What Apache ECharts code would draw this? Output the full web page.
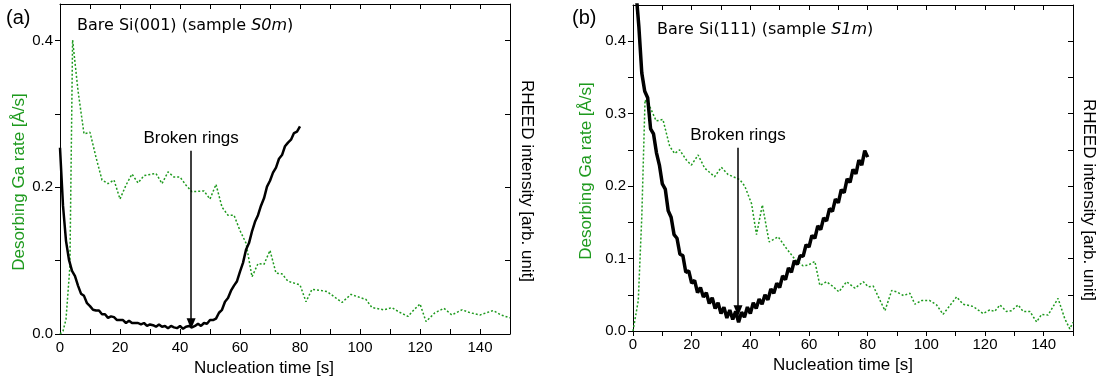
<!DOCTYPE html>
<html>
<head>
<meta charset="utf-8">
<script src="https://cdn.jsdelivr.net/npm/echarts@6/dist/echarts.min.js"></script>
<style>
html, body { margin: 0; padding: 0; background: #fff; }
#chart { width: 1101px; height: 383px; }
</style>
</head>
<body>
<div id="chart"></div>
<script>
// panel (a): Bare Si(001), sample S0m
// desorbing Ga rate [Å/s] (green dotted), time [s] / rate pairs
const gaTimeA = [0, 1, 2, 3.3, 4.2, 6, 8, 10, 12, 14, 16, 18, 20, 22, 24, 26, 28, 32, 34, 36, 38, 40, 42, 44, 48, 50, 52, 54, 56, 58, 60, 62, 64, 66, 68, 70, 72, 74, 76, 80, 82, 84, 89, 94, 97, 102, 104, 108, 110.6, 113, 116, 118, 120, 122, 125, 128, 130.6, 134, 136.7, 140, 144.4, 147, 150]
const gaRateA = [0, 0.004, 0.02, 0.092, 0.401, 0.332, 0.273, 0.275, 0.241, 0.21, 0.205, 0.21, 0.184, 0.203, 0.218, 0.206, 0.216, 0.219, 0.205, 0.221, 0.214, 0.214, 0.203, 0.194, 0.195, 0.184, 0.204, 0.173, 0.162, 0.162, 0.141, 0.124, 0.078, 0.096, 0.095, 0.114, 0.083, 0.082, 0.072, 0.067, 0.044, 0.061, 0.058, 0.043, 0.054, 0.047, 0.036, 0.033, 0.036, 0.030, 0.024, 0.033, 0.041, 0.017, 0.029, 0.035, 0.026, 0.033, 0.029, 0.026, 0.032, 0.026, 0.022]
// RHEED intensity (black), one sample per second from t = 0
const rheedA = [0.254, 0.175, 0.127, 0.101, 0.086, 0.079, 0.066, 0.055, 0.052, 0.042,
  0.038, 0.033, 0.032, 0.032, 0.027, 0.027, 0.022, 0.024, 0.023, 0.019,
  0.019, 0.019, 0.015, 0.018, 0.015, 0.015, 0.015, 0.013, 0.015, 0.011,
  0.013, 0.012, 0.010, 0.013, 0.010, 0.011, 0.008, 0.011, 0.009, 0.008,
  0.011, 0.007, 0.010, 0.011, 0.009, 0.011, 0.014, 0.011, 0.015, 0.014,
  0.019, 0.019, 0.021, 0.029, 0.033, 0.044, 0.049, 0.059, 0.066, 0.072,
  0.085, 0.097, 0.115, 0.124, 0.140, 0.153, 0.162, 0.175, 0.185, 0.201,
  0.209, 0.220, 0.227, 0.239, 0.244, 0.256, 0.261, 0.265, 0.274, 0.276, 0.283]
const arrowA = [43.7, 0.25, 0.014]   // x, top, tip

// panel (b): Bare Si(111), sample S1m
const gaTimeB = [0, 1.8, 3, 4.1, 5.7, 7.9, 10.2, 12.5, 14.2, 15.9, 18.2, 19.9, 22.2, 24.4, 27.8, 30.1, 32.4, 36.4, 38.1, 40.4, 42.1, 44.1, 46.4, 49.5, 52.3, 55.2, 58, 59.7, 62, 63.7, 66, 68, 70.2, 72.8, 75.7, 78.5, 80.2, 81.9, 85.9, 88.2, 89.9, 92.2, 94.4, 96.1, 98.4, 101.2, 103.5, 105.7, 110.3, 112.5, 115.9, 119.4, 121.6, 123.3, 125.1, 127.3, 129, 131.3, 133, 135.3, 137.6, 139.3, 141.5, 144.9, 147.2, 148.9, 150]
const gaRateB = [0, 0.042, 0.158, 0.319, 0.31, 0.29, 0.292, 0.255, 0.245, 0.25, 0.236, 0.229, 0.243, 0.225, 0.213, 0.226, 0.216, 0.209, 0.2, 0.176, 0.133, 0.174, 0.123, 0.130, 0.114, 0.099, 0.09, 0.091, 0.096, 0.063, 0.068, 0.062, 0.054, 0.068, 0.059, 0.068, 0.061, 0.062, 0.028, 0.056, 0.054, 0.049, 0.052, 0.037, 0.042, 0.042, 0.036, 0.023, 0.047, 0.037, 0.034, 0.024, 0.029, 0.027, 0.036, 0.027, 0.028, 0.036, 0.027, 0.027, 0.0125, 0.023, 0.022, 0.045, 0.017, 0.003, 0.012]
// RHEED intensity, one sample per second from t = 1
const rheedB = [0.470, 0.420, 0.356, 0.331, 0.322, 0.279, 0.272, 0.246, 0.229, 0.203,
  0.196, 0.166, 0.157, 0.133, 0.128, 0.106, 0.104, 0.081, 0.083, 0.066,
  0.070, 0.053, 0.060, 0.047, 0.053, 0.038, 0.046, 0.031, 0.039, 0.024,
  0.033, 0.018, 0.029, 0.016, 0.027, 0.012, 0.026, 0.019, 0.033, 0.024,
  0.039, 0.031, 0.044, 0.037, 0.050, 0.043, 0.058, 0.052, 0.066, 0.060,
  0.076, 0.071, 0.087, 0.081, 0.097, 0.092, 0.104, 0.103, 0.119, 0.116,
  0.132, 0.128, 0.145, 0.140, 0.156, 0.152, 0.169, 0.165, 0.182, 0.177,
  0.195, 0.191, 0.210, 0.205, 0.223, 0.217, 0.236, 0.229, 0.249, 0.240]
const arrowB = [35.8, 0.253, 0.028]

const GREEN = '#1e9a1e'
const FONT = '"Liberation Sans", Arial, sans-serif'
const TITLE_FONT = '"DejaVu Sans", Verdana, sans-serif'

const chart = echarts.init(document.getElementById('chart'))

// tick labels: y only at multiples of `step`, x only every 20
const yFmt = step => v => Math.abs(v / step - Math.round(v / step)) < 1e-6 ? v.toFixed(1) : ''
const xFmt = v => v % 20 === 0 ? String(v) : ''

function xAxes(grid, tickInside, namePad) {
  const line = { show: true, onZero: false, lineStyle: { color: '#000', width: 1 } }
  return [
    {
      type: 'value', gridIndex: grid, position: 'bottom', min: 0, max: 150, interval: 10,
      axisLine: line,
      axisTick: { show: true, inside: tickInside, length: 5, lineStyle: { color: '#000' } },
      axisLabel: { color: '#000', fontSize: 15, fontFamily: FONT, margin: 6, formatter: xFmt },
      splitLine: { show: false },
      name: 'Nucleation time [s]', nameLocation: 'middle', nameGap: 24,
      nameTextStyle: { color: '#000', fontSize: 17, fontFamily: FONT, padding: namePad }
    },
    {
      type: 'value', gridIndex: grid, position: 'top', min: 0, max: 150, interval: 10,
      axisLine: line,
      axisTick: { show: true, inside: true, length: 5, lineStyle: { color: '#000' } },
      axisLabel: { show: false }, splitLine: { show: false }
    }
  ]
}

function yAxes(grid, step, labelStep, leftGap, leftPad, rightGap, rightPad) {
  const line = { show: true, onZero: false, lineStyle: { color: '#000', width: 1 } }
  return [
    {
      type: 'value', gridIndex: grid, position: 'left', min: 0, max: 0.45, interval: step,
      axisLine: line,
      axisTick: { show: true, inside: false, length: 5, lineStyle: { color: '#000' } },
      axisLabel: { color: '#000', fontSize: 15, fontFamily: FONT, margin: 7, formatter: yFmt(labelStep), showMaxLabel: false },
      splitLine: { show: false },
      name: 'Desorbing Ga rate [Å/s]', nameLocation: 'middle', nameGap: leftGap, nameRotate: 90,
      nameTextStyle: { color: GREEN, fontSize: 17, fontFamily: FONT, padding: leftPad }
    },
    {
      type: 'value', gridIndex: grid, position: 'right', min: 0, max: 0.45, interval: step,
      axisLine: line,
      axisTick: { show: true, inside: true, length: 5, lineStyle: { color: '#000' } },
      axisLabel: { show: false }, splitLine: { show: false },
      name: 'RHEED intensity [arb. unit]', nameLocation: 'middle', nameGap: rightGap, nameRotate: -90,
      nameTextStyle: { color: '#000', fontSize: 17, fontFamily: FONT, padding: rightPad }
    }
  ]
}

function arrowMark(a) {
  return {
    silent: true, animation: false,
    symbol: ['none', 'triangle'], symbolSize: [9, 11],
    lineStyle: { color: '#000', width: 1.5, type: 'solid' },
    label: { show: true, position: 'start', formatter: 'Broken rings', color: '#000', fontSize: 17, fontFamily: FONT, distance: 4 },
    data: [[{ coord: [a[0], a[1]] }, { coord: [a[0], a[2]] }]]
  }
}

const pairs = (xs, ys) => xs.map((x, i) => [x, ys[i]])

function titleText(left, top, text) {
  return {
    type: 'text', left, top,
    style: { text, fontSize: 16, fontFamily: TITLE_FONT, fill: '#000',
      rich: { i: { fontStyle: 'italic', fontSize: 16, fontFamily: TITLE_FONT } } }
  }
}

const option = {
  animation: false,
  grid: [
    { left: 60, right: 591, top: 4, bottom: 49 },
    { left: 633, right: 28, top: 5, bottom: 52 }
  ],
  xAxis: [...xAxes(0, true, [0, 42, 0, 0]), ...xAxes(1, false, [0, 20, 0, 0])],
  yAxis: [...yAxes(0, 0.1, 0.2, 31, [0, 26, 0, 0], 8, [0, 0, 0, 24]),
          ...yAxes(1, 0.05, 0.1, 38, [0, 6, 0, 0], 7, [0, 0, 0, 64])],
  graphic: [
    { type: 'text', left: 6, top: 8, style: { text: '(a)', fontSize: 20, fontFamily: FONT, fill: '#000' } },
    { type: 'text', left: 572, top: 8, style: { text: '(b)', fontSize: 20, fontFamily: FONT, fill: '#000' } },
    titleText(77, 18, 'Bare Si(001) (sample {i|S0m})'),
    titleText(657, 22, 'Bare Si(111) (sample {i|S1m})')
  ],
  series: [
    {
      type: 'line', xAxisIndex: 0, yAxisIndex: 0, data: pairs(gaTimeA, gaRateA),
      symbol: 'none', lineStyle: { color: GREEN, width: 1.5, type: [2, 2] },
      markLine: arrowMark(arrowA)
    },
    {
      type: 'line', xAxisIndex: 0, yAxisIndex: 1, data: rheedA.map((v, i) => [i, v]),
      symbol: 'none', lineStyle: { color: '#000', width: 2.5 }
    },
    {
      type: 'line', xAxisIndex: 2, yAxisIndex: 2, data: pairs(gaTimeB, gaRateB),
      symbol: 'none', lineStyle: { color: GREEN, width: 1.5, type: [2, 2] },
      markLine: arrowMark(arrowB)
    },
    {
      type: 'line', xAxisIndex: 2, yAxisIndex: 3, data: rheedB.map((v, i) => [i + 1, v]),
      symbol: 'none', lineStyle: { color: '#000', width: 3.5 }
    }
  ]
}

chart.setOption(option)
</script>
</body>
</html>
